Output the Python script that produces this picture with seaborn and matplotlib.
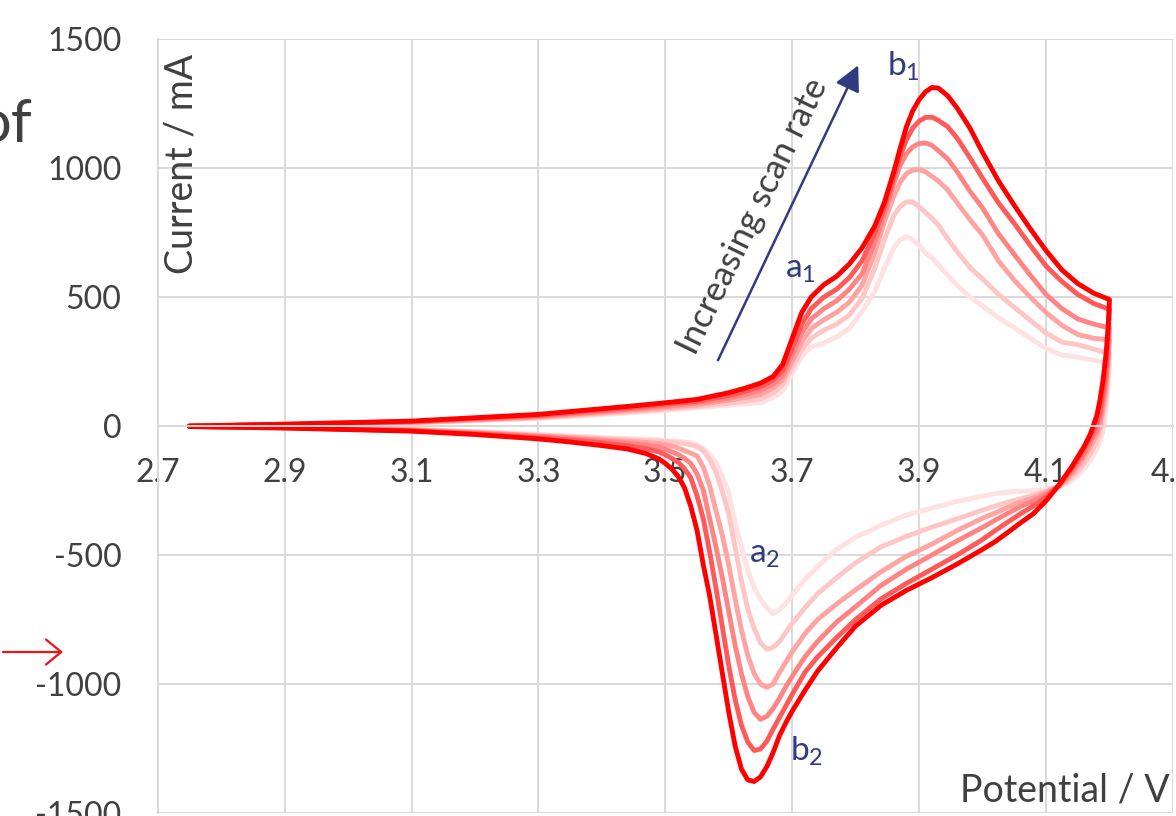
import numpy as np
import pandas as pd
import matplotlib
matplotlib.use('Agg')
import matplotlib.pyplot as plt
import seaborn as sns

# forward sweep (oxidation), potential in V
fwd_v = [2.75, 2.9, 3.1, 3.3, 3.45, 3.5, 3.55, 3.6, 3.625, 3.65, 3.67, 3.685, 3.70, 3.715, 3.73,
         3.75, 3.77, 3.79, 3.81, 3.83, 3.845, 3.86, 3.87, 3.88, 3.89, 3.90, 3.91, 3.92, 3.93, 3.945,
         3.96, 3.98, 4.0, 4.025, 4.05, 4.075, 4.1, 4.125, 4.15, 4.175, 4.2]

# current in mA, slowest scan rate first
fwd_1 = [0, 4, 12, 29, 52, 60, 71, 80, 85, 90, 110, 136, 205, 270, 307, 322, 345, 378, 445, 520,
         610, 690, 722, 735, 722, 700, 670, 652, 625, 585, 545, 500, 465, 420, 380, 340, 300, 275, 267, 255, 242]
fwd_2 = [0, 4, 13, 31, 56, 65, 76, 88, 96, 105, 128, 160, 225, 295, 340, 372, 395, 430, 495, 610,
         720, 815, 850, 869, 868, 850, 828, 805, 780, 725, 675, 615, 570, 510, 460, 410, 360, 325, 315, 298, 281]
fwd_3 = [0, 5, 14, 34, 61, 71, 82, 100, 110, 122, 148, 178, 250, 325, 378, 412, 440, 480, 545, 670,
         790, 890, 945, 978, 992, 994, 985, 968, 950, 915, 865, 800, 740, 640, 565, 500, 440, 390, 355, 340, 334]
fwd_4 = [0, 5, 15, 37, 66, 77, 89, 108, 122, 138, 162, 195, 275, 360, 415, 455, 485, 530, 590, 710,
         820, 940, 1010, 1055, 1082, 1095, 1097, 1088, 1068, 1035, 985, 910, 845, 745, 665, 585, 510, 455, 415, 395, 380]
fwd_5 = [0, 6, 17, 41, 72, 84, 96, 118, 134, 152, 178, 215, 300, 395, 455, 500, 530, 575, 640, 745,
         845, 960, 1045, 1110, 1155, 1182, 1196, 1197, 1185, 1160, 1115, 1040, 960, 865, 785, 700, 620, 560, 510, 475, 452]
fwd_6 = [0, 7, 19, 45, 78, 90, 103, 129, 146, 166, 192, 239, 340, 440, 500, 548, 580, 628, 690, 775,
         865, 985, 1075, 1160, 1222, 1265, 1295, 1312, 1310, 1280, 1232, 1155, 1060, 950, 855, 765, 680, 605, 552, 515, 490]

# reverse sweep (reduction), potential in V
rev_v = [4.2, 4.198, 4.195, 4.19, 4.185, 4.18, 4.17, 4.16, 4.15, 4.14, 4.13, 4.12, 4.1, 4.08, 4.06,
         4.04, 4.02, 4.0, 3.96, 3.92, 3.88, 3.84, 3.80, 3.77, 3.74, 3.72, 3.70, 3.69, 3.68, 3.67,
         3.66, 3.65, 3.64, 3.63, 3.62, 3.61, 3.60, 3.59, 3.58, 3.57, 3.56, 3.55, 3.54, 3.53, 3.52,
         3.51, 3.50, 3.49, 3.47, 3.44, 3.4, 3.35, 3.3, 3.2, 3.1, 2.9, 2.75]

rev_1 = [242, 160, 75, -15, -60, -90, -132, -165, -192, -212, -226, -235, -245, -250, -253,
         -256, -262, -272, -292, -318, -345, -385, -432, -478, -545, -595, -655, -688, -712, -728,
         -705, -670, -628, -560, -470, -375, -260, -195, -142, -112, -88, -72, -65, -62, -60,
         -58, -56, -54, -52, -49, -44, -38, -32, -21, -13, -5, -2]
rev_2 = [281, 200, 120, 35, -30, -62, -108, -145, -175, -200, -220, -234, -252, -268, -282,
         -295, -310, -326, -360, -392, -428, -468, -530, -588, -650, -705, -765, -800, -835, -858,
         -865, -840, -785, -710, -600, -470, -340, -255, -180, -130, -95, -80, -72, -68, -65,
         -62, -60, -58, -56, -53, -48, -41, -35, -23, -14, -5, -2]
rev_3 = [334, 250, 160, 70, 0, -35, -80, -122, -158, -188, -213, -233, -258, -278, -295,
         -315, -337, -357, -405, -458, -505, -565, -635, -690, -750, -805, -875, -915, -955, -1000,
         -1013, -1000, -960, -890, -790, -670, -540, -425, -330, -233, -160, -116, -105, -95, -85,
         -78, -72, -68, -64, -59, -53, -45, -38, -25, -15, -6, -2]
rev_4 = [380, 285, 190, 95, 25, -15, -62, -108, -145, -178, -207, -233, -265, -290, -312,
         -338, -365, -393, -445, -500, -555, -618, -700, -760, -835, -895, -970, -1010, -1055, -1095,
         -1125, -1137, -1110, -1050, -960, -850, -720, -590, -470, -360, -250, -185, -145, -125, -110,
         -100, -90, -82, -74, -66, -58, -49, -41, -27, -16, -6, -2]
rev_5 = [452, 345, 240, 130, 55, 10, -45, -92, -132, -168, -200, -232, -275, -310, -340,
         -372, -405, -440, -500, -555, -610, -670, -750, -820, -895, -955, -1040, -1085, -1130, -1175,
         -1222, -1252, -1258, -1225, -1160, -1060, -930, -780, -630, -490, -362, -270, -200, -165, -140,
         -125, -112, -100, -88, -76, -65, -54, -45, -30, -18, -7, -2]
rev_6 = [490, 390, 290, 180, 100, 40, -30, -80, -120, -160, -195, -230, -290, -340, -375,
         -412, -448, -478, -535, -588, -637, -695, -775, -860, -950, -1025, -1105, -1150, -1200, -1265,
         -1320, -1360, -1378, -1372, -1330, -1240, -1110, -960, -810, -660, -540, -405, -310, -238, -195,
         -166, -145, -128, -107, -89, -76, -62, -50, -33, -20, -8, -2]

x_ticks = [2.7, 2.9, 3.1, 3.3, 3.5, 3.7, 3.9, 4.1, 4.3]
x_labels = ['2.7', '2.9', '3.1', '3.3', '3.5', '3.7', '3.9', '4.1', '4.3']
y_ticks = [-1500, -1000, -500, 0, 500, 1000, 1500]
y_labels = ['-1500', '-1000', '-500', '0', '500', '1000', '1500']

line_colors = ['#FFE1E1', '#FFC6C6', '#FFA3A3', '#FF8585', '#FF5A5A', '#FF0000']

# build long table, one loop per scan rate
fwd_all = [fwd_1, fwd_2, fwd_3, fwd_4, fwd_5, fwd_6]
rev_all = [rev_1, rev_2, rev_3, rev_4, rev_5, rev_6]
rows = []
for k in range(6):
    for v, c in zip(fwd_v, fwd_all[k]):
        rows.append((k, v, c))
    for v, c in zip(rev_v, rev_all[k]):
        rows.append((k, v, c))
df = pd.DataFrame(rows, columns=['scan', 'potential', 'current'])

sns.set_style('white')
plt.rcParams['font.family'] = ['Lato', 'DejaVu Sans']
plt.rcParams['mathtext.fontset'] = 'custom'
plt.rcParams['mathtext.rm'] = 'Lato'
plt.rcParams['mathtext.it'] = 'Lato'

grey = '#404040'
navy = '#2F3C80'
gridc = '#D9D9D9'

fig = plt.figure(figsize=(11.76, 8.16), dpi=100)
ax = fig.add_axes([0.1341, 0.0037, 0.8633, 0.9485])

sns.lineplot(data=df, x='potential', y='current', hue='scan', palette=line_colors,
             sort=False, estimator=None, linewidth=3.5, legend=False, ax=ax,
             solid_capstyle='round')

ax.set_xlim(2.7, 4.3)
ax.set_ylim(-1500, 1500)
ax.set_xticks(x_ticks)
ax.set_xticklabels(x_labels)
ax.set_yticks(y_ticks)
ax.set_yticklabels(y_labels)
ax.set_xlabel('')
ax.set_ylabel('')
ax.grid(True, color=gridc, linewidth=1.4)
ax.set_axisbelow(True)
ax.tick_params(axis='both', length=0, labelsize=23, labelcolor=grey)
ax.tick_params(axis='y', pad=26)
ax.tick_params(axis='x', pad=23)
ax.spines['top'].set_visible(False)
ax.spines['right'].set_visible(False)
ax.spines['left'].set_color(gridc)
ax.spines['left'].set_linewidth(1.4)
ax.spines['bottom'].set_position(('data', 0))
ax.spines['bottom'].set_color(gridc)
ax.spines['bottom'].set_linewidth(1.4)

# axis titles sit inside the plot area
ax.text(0.023, 0.8385, 'Current / mA', transform=ax.transAxes, rotation=90,
        ha='center', va='center', fontsize=27, color=grey)
ax.text(0.997, 0.0142, 'Potential / V', transform=ax.transAxes,
        ha='right', va='baseline', fontsize=27, color=grey)

# peak labels
ax.text(3.875, 1394, r'b$_\mathregular{1}$', ha='center', va='center', fontsize=24, color=navy)
ax.text(3.713, 603, r'a$_\mathregular{1}$', ha='center', va='center', fontsize=24, color=navy)
ax.text(3.656, -501, r'a$_\mathregular{2}$', ha='center', va='center', fontsize=24, color=navy)
ax.text(3.722, -1261, r'b$_\mathregular{2}$', ha='center', va='center', fontsize=24, color=navy)

ax.annotate('', xy=(3.804, 1398), xytext=(3.583, 255),
            arrowprops=dict(arrowstyle='-|>,head_length=0.55,head_width=0.28', color=navy,
                            lw=1.8, mutation_scale=28, shrinkA=0, shrinkB=0))
ax.text(3.638, 815, 'Increasing scan rate', rotation=64, rotation_mode='anchor',
        ha='center', va='center', fontsize=25, color=grey)

# bits of the surrounding slide that show at the left edge
fig.text(32 / 1176, 1 - 142 / 816, 'of', ha='right', va='baseline', fontsize=43, color=grey)
ax.annotate('', xy=(63 / 1176, 1 - 652 / 816), xytext=(3 / 1176, 1 - 652 / 816),
            xycoords='figure fraction', textcoords='figure fraction',
            arrowprops=dict(arrowstyle='->,head_length=0.55,head_width=0.45', color='#E8141B',
                            lw=1.6, mutation_scale=20, shrinkA=0, shrinkB=0))

fig.savefig('out.png', dpi=100)
